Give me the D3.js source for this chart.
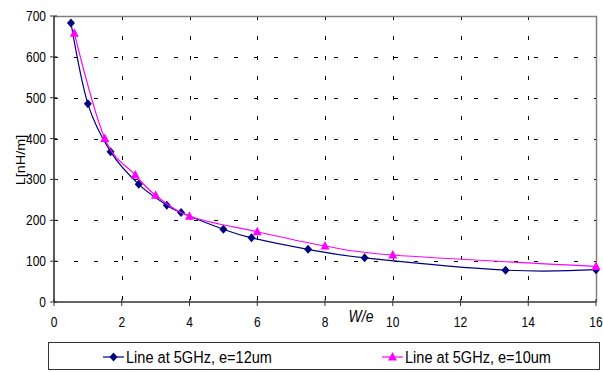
<!DOCTYPE html>
<html>
<head>
<meta charset="utf-8">
<script src="https://cdn.jsdelivr.net/npm/d3@7"></script>
<style>
  body { margin: 0; background: #fff; }
  text { font-family: "Liberation Sans", Arial, sans-serif; fill: #000; }
</style>
</head>
<body>
<div id="chart"></div>
<script>
// values
var xTicks = [0, 2, 4, 6, 8, 10, 12, 14, 16];
var yTicks = [0, 100, 200, 300, 400, 500, 600, 700];

var we12 = [0.5, 1, 1.67, 2.5, 3.33, 3.75, 5, 5.83, 7.5, 9.17, 13.33, 16];
var l12  = [683, 485, 368, 288, 237, 219, 178, 157, 129, 108, 78, 79];

var we10 = [0.6, 1.5, 2.4, 3, 4, 6, 8, 10, 16];
var l10  = [658, 400, 311, 261, 210, 172, 137, 115, 87];

var seriesNames = ["Line at 5GHz, e=12um", "Line at 5GHz, e=10um"];

// the picture is a bit stretched vertically, text too
var stretch = 1.2;

var width = 603, height = 372,
    margin = {top: 16, right: 7, bottom: 70, left: 54};

var svg = d3.select("#chart")
  .append("svg")
  .attr("width", width)
  .attr("height", height);

var x = d3.scaleLinear()
  .domain([0, 16])
  .range([margin.left, width - margin.right]);

var y = d3.scaleLinear()
  .domain([0, 700])
  .range([height - margin.bottom, margin.top]);

// helper for stretched text
function label(g, tx, ty, str, size, anchor) {
  return g.append("text")
    .attr("transform", "translate(" + tx + "," + ty + ") scale(1," + stretch + ")")
    .attr("font-size", size)
    .attr("text-anchor", anchor || "middle")
    .text(str);
}

// grid
var grid = svg.append("g")
  .attr("stroke", "#000")
  .attr("stroke-width", 1)
  .attr("stroke-dasharray", "4,16");

grid.selectAll("line.h")
  .data(yTicks.filter(function(d) { return d > 0 && d < 700; }))
  .enter().append("line")
    .attr("x1", x(0)).attr("x2", x(16))
    .attr("y1", function(d) { return Math.round(y(d)) + 0.5; })
    .attr("y2", function(d) { return Math.round(y(d)) + 0.5; });

grid.selectAll("line.v")
  .data(xTicks.filter(function(d) { return d > 0 && d < 16; }))
  .enter().append("line")
    .attr("y1", y(700)).attr("y2", y(0))
    .attr("x1", function(d) { return Math.round(x(d)) + 0.5; })
    .attr("x2", function(d) { return Math.round(x(d)) + 0.5; });

// top and right border of the plot area
svg.append("path")
  .attr("d", "M" + x(0) + "," + (y(700) + 0.5) + "H" + (x(16) + 0.5) + "V" + y(0))
  .attr("fill", "none")
  .attr("stroke", "#808080")
  .attr("stroke-width", 1.5);

// axes
var axis = svg.append("g").attr("stroke", "#333").attr("stroke-width", 1.6);
axis.append("line")
  .attr("x1", x(0)).attr("x2", x(0))
  .attr("y1", y(700)).attr("y2", y(0));
axis.append("line")
  .attr("x1", x(0)).attr("x2", x(16))
  .attr("y1", y(0)).attr("y2", y(0));

axis.selectAll("line.yt")
  .data(yTicks)
  .enter().append("line")
    .attr("stroke-width", 1)
    .attr("x1", x(0) - 4).attr("x2", x(0) + 3)
    .attr("y1", function(d) { return y(d); })
    .attr("y2", function(d) { return y(d); });

axis.selectAll("line.xt")
  .data(xTicks)
  .enter().append("line")
    .attr("stroke-width", 1)
    .attr("y1", y(0) - 3).attr("y2", y(0) + 4)
    .attr("x1", function(d) { return x(d); })
    .attr("x2", function(d) { return x(d); });

// tick labels
var labels = svg.append("g");
yTicks.forEach(function(d) {
  label(labels, x(0) - 8, y(d) + 5, d, 12, "end");
});
xTicks.forEach(function(d) {
  label(labels, x(d), y(0) + 25, d, 12);
});

// axis titles
label(labels, 361, 322, "W/e", 14).attr("font-style", "italic");
svg.append("text")
  .attr("transform", "translate(25,160) scale(1," + stretch + ") rotate(-90)")
  .attr("font-size", 12)
  .attr("text-anchor", "middle")
  .text("L[nH/m]");

// series
var line = d3.line()
  .x(function(d) { return x(d[0]); })
  .y(function(d) { return y(d[1]); })
  .curve(d3.curveCatmullRom.alpha(0));

function diamond(cx, cy) {
  return "M" + cx + "," + (cy - 4.5) + "L" + (cx + 4) + "," + cy +
         "L" + cx + "," + (cy + 4.5) + "L" + (cx - 4) + "," + cy + "Z";
}
function triangle(cx, cy) {
  return "M" + cx + "," + (cy - 5) + "L" + (cx + 4.5) + "," + (cy + 3.5) +
         "L" + (cx - 4.5) + "," + (cy + 3.5) + "Z";
}

var series = [
  {name: seriesNames[0], xs: we12, ys: l12, color: "#000080", mark: diamond},
  {name: seriesNames[1], xs: we10, ys: l10, color: "#ff00ff", mark: triangle}
];

series.forEach(function(s) {
  var pts = s.xs.map(function(v, i) { return [v, s.ys[i]]; });
  var g = svg.append("g");
  g.append("path")
    .attr("d", line(pts))
    .attr("fill", "none")
    .attr("stroke", s.color)
    .attr("stroke-width", 1.2);
  g.selectAll("path.m")
    .data(pts)
    .enter().append("path")
      .attr("d", function(d) { return s.mark(x(d[0]), y(d[1])); })
      .attr("fill", s.color);
});

// legend
var leg = svg.append("g");
leg.append("rect")
  .attr("x", 48.5).attr("y", 342.5)
  .attr("width", 551).attr("height", 27)
  .attr("fill", "#fff")
  .attr("stroke", "#333")
  .attr("stroke-width", 1);

var legX = [103, 382];
series.forEach(function(s, i) {
  var lx = legX[i];
  leg.append("line")
    .attr("x1", lx).attr("x2", lx + 21)
    .attr("y1", 357).attr("y2", 357)
    .attr("stroke", s.color).attr("stroke-width", 1.2);
  leg.append("path")
    .attr("d", s.mark(lx + 10.5, 357))
    .attr("fill", s.color);
  label(leg, lx + 23, 363, s.name, 14.5, "start")
    .attr("textLength", 146)
    .attr("lengthAdjust", "spacingAndGlyphs");
});
</script>
</body>
</html>
